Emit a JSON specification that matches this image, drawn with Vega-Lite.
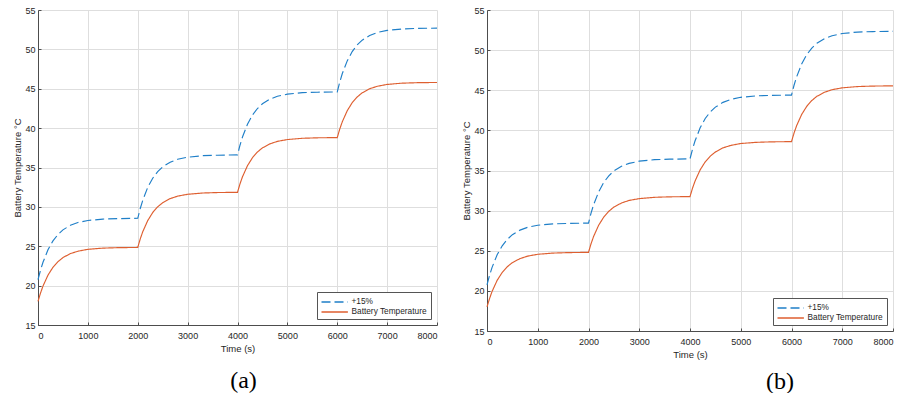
{
  "$schema": "https://vega.github.io/schema/vega-lite/v6.json",
  "background": "white",
  "padding": {"left": 12, "top": 6, "right": 0, "bottom": 0},
  "spacing": 50,
  "bounds": "flush",
  "config": {
    "font": "Liberation Sans",
    "view": {"stroke": null},
    "axis": {
      "labelFont": "Liberation Sans",
      "labelFontSize": 9,
      "labelColor": "#262626",
      "titleFont": "Liberation Sans",
      "titleFontSize": 9.5,
      "titleFontWeight": "normal",
      "titleColor": "#262626",
      "domainColor": "#4d4d4d",
      "domainWidth": 1,
      "gridColor": "#dedede",
      "gridWidth": 1,
      "tickColor": "#4d4d4d",
      "tickSize": -3,
      "labelPadding": 6,
      "format": "d"
    },
    "axisX": {"titlePadding": 3, "labelPadding": 9},
    "axisY": {"titlePadding": 2},
    "legend": {
      "orient": "bottom-right",
      "offset": 6,
      "strokeColor": "#555555",
      "fillColor": "white",
      "padding": 3.5,
      "labelFont": "Liberation Sans",
      "labelFontSize": 8.3,
      "labelColor": "#262626",
      "symbolType": "M-1,0H3.8",
      "symbolSize": 121,
      "symbolStrokeWidth": 1.3,
      "labelOffset": 18,
      "rowPadding": 0,
      "cornerRadius": 0
    },
    "title": {"font": "Liberation Serif", "fontSize": 24, "fontWeight": "normal", "color": "#000000"}
  },
  "resolve": {"scale": {"color": "independent", "strokeDash": "independent", "x": "independent", "y": "independent"}},
  "hconcat": [
    {
      "width": 399,
      "height": 315,
      "data": {"name": "a"},
      "title": {"text": "(a)", "orient": "bottom", "anchor": "middle", "offset": 16, "dx": 6},
      "mark": {"type": "line", "strokeWidth": 1.15},
      "encoding": {
        "x": {"field": "time", "type": "quantitative", "scale": {"domain": [0, 8000], "nice": false}, "axis": {"title": "Time (s)", "values": [0, 1000, 2000, 3000, 4000, 5000, 6000, 7000, 8000]}},
        "y": {"field": "temp", "type": "quantitative", "scale": {"domain": [15, 55], "nice": false, "zero": false}, "axis": {"title": "Battery Temperature  °C", "values": [15, 20, 25, 30, 35, 40, 45, 50, 55]}},
        "color": {"field": "series", "type": "nominal", "scale": {"domain": ["+15%", "Battery Temperature"], "range": ["#1f7fc8", "#de5f30"]}, "legend": {"title": null}},
        "strokeDash": {"field": "series", "type": "nominal", "scale": {"domain": ["+15%", "Battery Temperature"], "range": [[9, 4], [1, 0]]}, "legend": {"title": null}}
      }
    },
    {
      "width": 406,
      "height": 321,
      "data": {"name": "b"},
      "title": {"text": "(b)", "orient": "bottom", "anchor": "middle", "offset": 11, "dx": 90},
      "mark": {"type": "line", "strokeWidth": 1.15},
      "encoding": {
        "x": {"field": "time", "type": "quantitative", "scale": {"domain": [0, 8000], "nice": false}, "axis": {"title": "Time (s)", "values": [0, 1000, 2000, 3000, 4000, 5000, 6000, 7000, 8000]}},
        "y": {"field": "temp", "type": "quantitative", "scale": {"domain": [15, 55], "nice": false, "zero": false}, "axis": {"title": "Battery Temperature  °C", "values": [15, 20, 25, 30, 35, 40, 45, 50, 55]}},
        "color": {"field": "series", "type": "nominal", "scale": {"domain": ["+15%", "Battery Temperature"], "range": ["#1f7fc8", "#de5f30"]}, "legend": {"title": null}},
        "strokeDash": {"field": "series", "type": "nominal", "scale": {"domain": ["+15%", "Battery Temperature"], "range": [[9, 4], [1, 0]]}, "legend": {"title": null}}
      }
    }
  ],
  "datasets": {
    "a": [
      {"series": "+15%", "time": 0, "temp": 20.75},
      {"series": "+15%", "time": 50, "temp": 21.95},
      {"series": "+15%", "time": 100, "temp": 22.96},
      {"series": "+15%", "time": 200, "temp": 24.55},
      {"series": "+15%", "time": 300, "temp": 25.68},
      {"series": "+15%", "time": 400, "temp": 26.49},
      {"series": "+15%", "time": 500, "temp": 27.08},
      {"series": "+15%", "time": 650, "temp": 27.66},
      {"series": "+15%", "time": 800, "temp": 28.01},
      {"series": "+15%", "time": 1000, "temp": 28.27},
      {"series": "+15%", "time": 1300, "temp": 28.45},
      {"series": "+15%", "time": 1600, "temp": 28.51},
      {"series": "+15%", "time": 2000, "temp": 28.55},
      {"series": "+15%", "time": 2050, "temp": 29.79},
      {"series": "+15%", "time": 2100, "temp": 30.83},
      {"series": "+15%", "time": 2200, "temp": 32.47},
      {"series": "+15%", "time": 2300, "temp": 33.64},
      {"series": "+15%", "time": 2400, "temp": 34.48},
      {"series": "+15%", "time": 2500, "temp": 35.08},
      {"series": "+15%", "time": 2650, "temp": 35.68},
      {"series": "+15%", "time": 2800, "temp": 36.04},
      {"series": "+15%", "time": 3000, "temp": 36.31},
      {"series": "+15%", "time": 3300, "temp": 36.50},
      {"series": "+15%", "time": 3600, "temp": 36.56},
      {"series": "+15%", "time": 4000, "temp": 36.6},
      {"series": "+15%", "time": 4050, "temp": 37.83},
      {"series": "+15%", "time": 4100, "temp": 38.87},
      {"series": "+15%", "time": 4200, "temp": 40.49},
      {"series": "+15%", "time": 4300, "temp": 41.66},
      {"series": "+15%", "time": 4400, "temp": 42.49},
      {"series": "+15%", "time": 4500, "temp": 43.09},
      {"series": "+15%", "time": 4650, "temp": 43.68},
      {"series": "+15%", "time": 4800, "temp": 44.04},
      {"series": "+15%", "time": 5000, "temp": 44.31},
      {"series": "+15%", "time": 5300, "temp": 44.50},
      {"series": "+15%", "time": 5600, "temp": 44.56},
      {"series": "+15%", "time": 6000, "temp": 44.6},
      {"series": "+15%", "time": 6050, "temp": 45.84},
      {"series": "+15%", "time": 6100, "temp": 46.90},
      {"series": "+15%", "time": 6200, "temp": 48.54},
      {"series": "+15%", "time": 6300, "temp": 49.72},
      {"series": "+15%", "time": 6400, "temp": 50.57},
      {"series": "+15%", "time": 6500, "temp": 51.17},
      {"series": "+15%", "time": 6650, "temp": 51.77},
      {"series": "+15%", "time": 6800, "temp": 52.14},
      {"series": "+15%", "time": 7000, "temp": 52.41},
      {"series": "+15%", "time": 7300, "temp": 52.59},
      {"series": "+15%", "time": 7600, "temp": 52.66},
      {"series": "+15%", "time": 8000, "temp": 52.7},
      {"series": "Battery Temperature", "time": 0, "temp": 18},
      {"series": "Battery Temperature", "time": 50, "temp": 19.05},
      {"series": "Battery Temperature", "time": 100, "temp": 19.94},
      {"series": "Battery Temperature", "time": 200, "temp": 21.33},
      {"series": "Battery Temperature", "time": 300, "temp": 22.33},
      {"series": "Battery Temperature", "time": 400, "temp": 23.04},
      {"series": "Battery Temperature", "time": 500, "temp": 23.56},
      {"series": "Battery Temperature", "time": 650, "temp": 24.07},
      {"series": "Battery Temperature", "time": 800, "temp": 24.37},
      {"series": "Battery Temperature", "time": 1000, "temp": 24.61},
      {"series": "Battery Temperature", "time": 1300, "temp": 24.76},
      {"series": "Battery Temperature", "time": 1600, "temp": 24.82},
      {"series": "Battery Temperature", "time": 2000, "temp": 24.85},
      {"series": "Battery Temperature", "time": 2050, "temp": 25.93},
      {"series": "Battery Temperature", "time": 2100, "temp": 26.84},
      {"series": "Battery Temperature", "time": 2200, "temp": 28.26},
      {"series": "Battery Temperature", "time": 2300, "temp": 29.28},
      {"series": "Battery Temperature", "time": 2400, "temp": 30.01},
      {"series": "Battery Temperature", "time": 2500, "temp": 30.53},
      {"series": "Battery Temperature", "time": 2650, "temp": 31.05},
      {"series": "Battery Temperature", "time": 2800, "temp": 31.36},
      {"series": "Battery Temperature", "time": 3000, "temp": 31.60},
      {"series": "Battery Temperature", "time": 3300, "temp": 31.76},
      {"series": "Battery Temperature", "time": 3600, "temp": 31.82},
      {"series": "Battery Temperature", "time": 4000, "temp": 31.85},
      {"series": "Battery Temperature", "time": 4050, "temp": 32.92},
      {"series": "Battery Temperature", "time": 4100, "temp": 33.82},
      {"series": "Battery Temperature", "time": 4200, "temp": 35.23},
      {"series": "Battery Temperature", "time": 4300, "temp": 36.24},
      {"series": "Battery Temperature", "time": 4400, "temp": 36.97},
      {"series": "Battery Temperature", "time": 4500, "temp": 37.49},
      {"series": "Battery Temperature", "time": 4650, "temp": 38.00},
      {"series": "Battery Temperature", "time": 4800, "temp": 38.32},
      {"series": "Battery Temperature", "time": 5000, "temp": 38.55},
      {"series": "Battery Temperature", "time": 5300, "temp": 38.71},
      {"series": "Battery Temperature", "time": 5600, "temp": 38.77},
      {"series": "Battery Temperature", "time": 6000, "temp": 38.8},
      {"series": "Battery Temperature", "time": 6050, "temp": 39.88},
      {"series": "Battery Temperature", "time": 6100, "temp": 40.79},
      {"series": "Battery Temperature", "time": 6200, "temp": 42.21},
      {"series": "Battery Temperature", "time": 6300, "temp": 43.23},
      {"series": "Battery Temperature", "time": 6400, "temp": 43.96},
      {"series": "Battery Temperature", "time": 6500, "temp": 44.48},
      {"series": "Battery Temperature", "time": 6650, "temp": 45.0},
      {"series": "Battery Temperature", "time": 6800, "temp": 45.31},
      {"series": "Battery Temperature", "time": 7000, "temp": 45.55},
      {"series": "Battery Temperature", "time": 7300, "temp": 45.71},
      {"series": "Battery Temperature", "time": 7600, "temp": 45.77},
      {"series": "Battery Temperature", "time": 8000, "temp": 45.8}
    ],
    "b": [
      {"series": "+15%", "time": 0, "temp": 20.75},
      {"series": "+15%", "time": 50, "temp": 21.93},
      {"series": "+15%", "time": 100, "temp": 22.93},
      {"series": "+15%", "time": 200, "temp": 24.50},
      {"series": "+15%", "time": 300, "temp": 25.62},
      {"series": "+15%", "time": 400, "temp": 26.42},
      {"series": "+15%", "time": 500, "temp": 27.00},
      {"series": "+15%", "time": 650, "temp": 27.57},
      {"series": "+15%", "time": 800, "temp": 27.92},
      {"series": "+15%", "time": 1000, "temp": 28.18},
      {"series": "+15%", "time": 1300, "temp": 28.35},
      {"series": "+15%", "time": 1600, "temp": 28.41},
      {"series": "+15%", "time": 2000, "temp": 28.45},
      {"series": "+15%", "time": 2050, "temp": 29.68},
      {"series": "+15%", "time": 2100, "temp": 30.72},
      {"series": "+15%", "time": 2200, "temp": 32.34},
      {"series": "+15%", "time": 2300, "temp": 33.51},
      {"series": "+15%", "time": 2400, "temp": 34.34},
      {"series": "+15%", "time": 2500, "temp": 34.94},
      {"series": "+15%", "time": 2650, "temp": 35.53},
      {"series": "+15%", "time": 2800, "temp": 35.89},
      {"series": "+15%", "time": 3000, "temp": 36.16},
      {"series": "+15%", "time": 3300, "temp": 36.35},
      {"series": "+15%", "time": 3600, "temp": 36.41},
      {"series": "+15%", "time": 4000, "temp": 36.45},
      {"series": "+15%", "time": 4050, "temp": 37.67},
      {"series": "+15%", "time": 4100, "temp": 38.70},
      {"series": "+15%", "time": 4200, "temp": 40.32},
      {"series": "+15%", "time": 4300, "temp": 41.48},
      {"series": "+15%", "time": 4400, "temp": 42.30},
      {"series": "+15%", "time": 4500, "temp": 42.90},
      {"series": "+15%", "time": 4650, "temp": 43.49},
      {"series": "+15%", "time": 4800, "temp": 43.85},
      {"series": "+15%", "time": 5000, "temp": 44.12},
      {"series": "+15%", "time": 5300, "temp": 44.30},
      {"series": "+15%", "time": 5600, "temp": 44.36},
      {"series": "+15%", "time": 6000, "temp": 44.4},
      {"series": "+15%", "time": 6050, "temp": 45.62},
      {"series": "+15%", "time": 6100, "temp": 46.65},
      {"series": "+15%", "time": 6200, "temp": 48.27},
      {"series": "+15%", "time": 6300, "temp": 49.43},
      {"series": "+15%", "time": 6400, "temp": 50.25},
      {"series": "+15%", "time": 6500, "temp": 50.85},
      {"series": "+15%", "time": 6650, "temp": 51.44},
      {"series": "+15%", "time": 6800, "temp": 51.80},
      {"series": "+15%", "time": 7000, "temp": 52.07},
      {"series": "+15%", "time": 7300, "temp": 52.25},
      {"series": "+15%", "time": 7600, "temp": 52.31},
      {"series": "+15%", "time": 8000, "temp": 52.35},
      {"series": "Battery Temperature", "time": 0, "temp": 18},
      {"series": "Battery Temperature", "time": 50, "temp": 19.04},
      {"series": "Battery Temperature", "time": 100, "temp": 19.93},
      {"series": "Battery Temperature", "time": 200, "temp": 21.31},
      {"series": "Battery Temperature", "time": 300, "temp": 22.30},
      {"series": "Battery Temperature", "time": 400, "temp": 23.01},
      {"series": "Battery Temperature", "time": 500, "temp": 23.52},
      {"series": "Battery Temperature", "time": 650, "temp": 24.02},
      {"series": "Battery Temperature", "time": 800, "temp": 24.33},
      {"series": "Battery Temperature", "time": 1000, "temp": 24.56},
      {"series": "Battery Temperature", "time": 1300, "temp": 24.71},
      {"series": "Battery Temperature", "time": 1600, "temp": 24.77},
      {"series": "Battery Temperature", "time": 2000, "temp": 24.8},
      {"series": "Battery Temperature", "time": 2050, "temp": 25.87},
      {"series": "Battery Temperature", "time": 2100, "temp": 26.77},
      {"series": "Battery Temperature", "time": 2200, "temp": 28.18},
      {"series": "Battery Temperature", "time": 2300, "temp": 29.19},
      {"series": "Battery Temperature", "time": 2400, "temp": 29.92},
      {"series": "Battery Temperature", "time": 2500, "temp": 30.44},
      {"series": "Battery Temperature", "time": 2650, "temp": 30.95},
      {"series": "Battery Temperature", "time": 2800, "temp": 31.27},
      {"series": "Battery Temperature", "time": 3000, "temp": 31.50},
      {"series": "Battery Temperature", "time": 3300, "temp": 31.66},
      {"series": "Battery Temperature", "time": 3600, "temp": 31.72},
      {"series": "Battery Temperature", "time": 4000, "temp": 31.75},
      {"series": "Battery Temperature", "time": 4050, "temp": 32.80},
      {"series": "Battery Temperature", "time": 4100, "temp": 33.69},
      {"series": "Battery Temperature", "time": 4200, "temp": 35.08},
      {"series": "Battery Temperature", "time": 4300, "temp": 36.08},
      {"series": "Battery Temperature", "time": 4400, "temp": 36.79},
      {"series": "Battery Temperature", "time": 4500, "temp": 37.31},
      {"series": "Battery Temperature", "time": 4650, "temp": 37.82},
      {"series": "Battery Temperature", "time": 4800, "temp": 38.12},
      {"series": "Battery Temperature", "time": 5000, "temp": 38.36},
      {"series": "Battery Temperature", "time": 5300, "temp": 38.51},
      {"series": "Battery Temperature", "time": 5600, "temp": 38.57},
      {"series": "Battery Temperature", "time": 6000, "temp": 38.6},
      {"series": "Battery Temperature", "time": 6050, "temp": 39.67},
      {"series": "Battery Temperature", "time": 6100, "temp": 40.57},
      {"series": "Battery Temperature", "time": 6200, "temp": 41.98},
      {"series": "Battery Temperature", "time": 6300, "temp": 42.99},
      {"series": "Battery Temperature", "time": 6400, "temp": 43.72},
      {"series": "Battery Temperature", "time": 6500, "temp": 44.24},
      {"series": "Battery Temperature", "time": 6650, "temp": 44.75},
      {"series": "Battery Temperature", "time": 6800, "temp": 45.07},
      {"series": "Battery Temperature", "time": 7000, "temp": 45.30},
      {"series": "Battery Temperature", "time": 7300, "temp": 45.46},
      {"series": "Battery Temperature", "time": 7600, "temp": 45.52},
      {"series": "Battery Temperature", "time": 8000, "temp": 45.55}
    ]
  }
}
